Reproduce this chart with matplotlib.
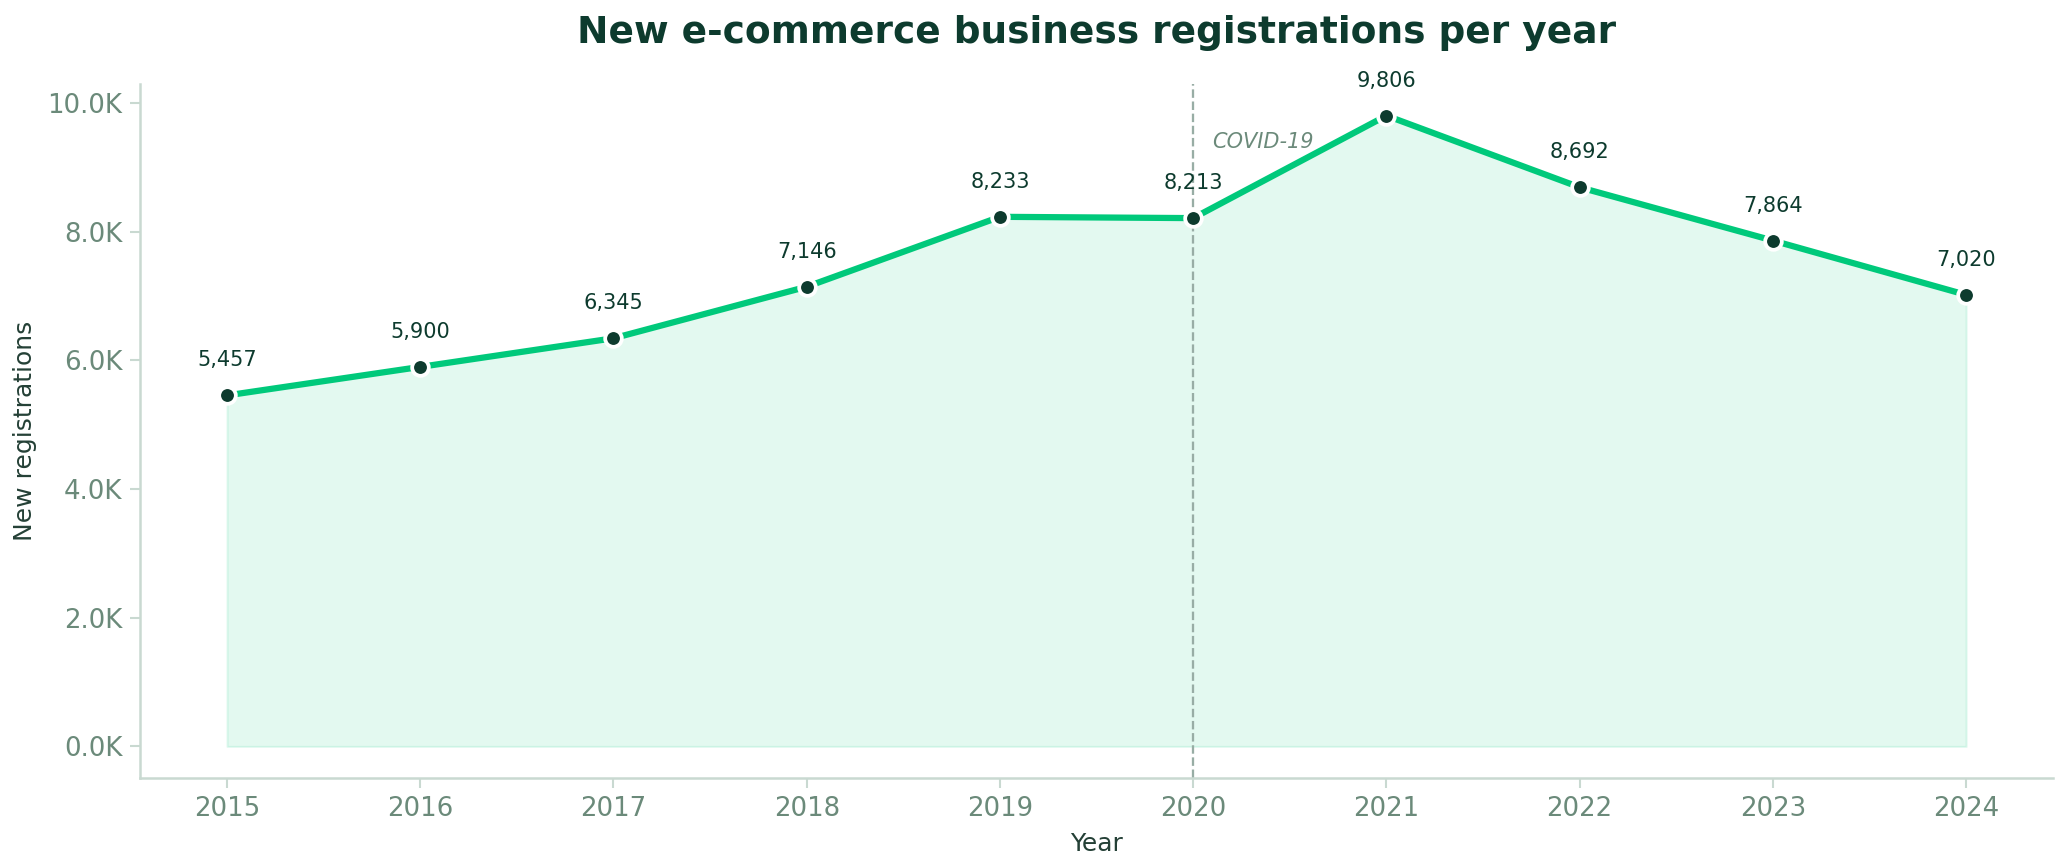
import matplotlib
matplotlib.use("Agg")
import matplotlib.pyplot as plt
from matplotlib.ticker import FuncFormatter

# ---- palette -------------------------------------------------------------
GREEN = "#00C97B"
DARK = "#0D3B2E"
MUTED = "#6B8A7A"
SPINE = "#C9D9D1"
VLINE = "#98ADA5"

years = [2015, 2016, 2017, 2018, 2019, 2020, 2021, 2022, 2023, 2024]
registrations = [5457, 5900, 6345, 7146, 8233, 8213, 9806, 8692, 7864, 7020]
yticks = [0, 2000, 4000, 6000, 8000, 10000]
event_year = 2020
event_label = "COVID-19"

fig = plt.figure(figsize=(2069 / 150, 867 / 150), dpi=150)
ax = fig.add_axes([0.0677, 0.1027, 0.9246, 0.8003])

ax.fill_between(years, registrations, 0, color=GREEN, alpha=0.11, lw=1, zorder=1)
ax.plot(years, registrations, color=GREEN, lw=3, zorder=3,
        marker="o", ms=8, mfc=DARK, mec="white", mew=1.8)

for x, y in zip(years, registrations):
    ax.annotate(f"{y:,}", xy=(x, y), xytext=(0, 12), textcoords="offset points",
                ha="center", va="bottom", fontsize=10, color=DARK, zorder=5)

ax.axvline(event_year, color=VLINE, ls="--", lw=1.1, zorder=2)
ax.text(event_year + 0.1, 9400, event_label, ha="left", va="center",
        fontsize=10, style="italic", color=MUTED)

ax.set_xticks(years)
ax.set_yticks(yticks)
ax.yaxis.set_major_formatter(FuncFormatter(lambda v, _: f"{v/1000:.1f}K"))
ax.tick_params(colors=SPINE, labelcolor=MUTED, labelsize=12.5, length=5, width=1)

for s in ("top", "right"):
    ax.spines[s].set_visible(False)
for s in ("left", "bottom"):
    ax.spines[s].set_color(SPINE)
    ax.spines[s].set_linewidth(1.2)

ax.set_xlabel("Year", fontsize=12, color="#244036", labelpad=5)
ax.set_ylabel("New registrations", fontsize=12, color="#244036", labelpad=5)
fig.suptitle("New e-commerce business registrations per year", x=0.53, y=0.983,
             fontsize=18, fontweight="bold", color=DARK, va="top")

fig.savefig("out.png", dpi=150, facecolor="white")
